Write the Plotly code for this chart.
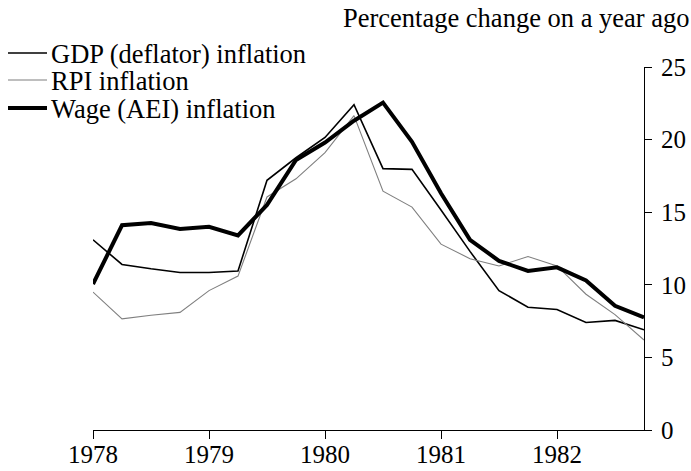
import plotly.graph_objects as go

quarters = [1978.0 + 0.25 * i for i in range(20)]
gdp_deflator = [13.1, 11.4, 11.1, 10.85, 10.85, 10.95, 17.2, 18.75, 20.15, 22.4,
                18.0, 17.95, 15.15, 12.3, 9.6, 8.45, 8.3, 7.4, 7.55, 6.9]
rpi = [9.5, 7.65, 7.9, 8.1, 9.6, 10.6, 16.05, 17.3, 19.1, 21.65,
       16.45, 15.35, 12.8, 11.8, 11.3, 11.95, 11.3, 9.35, 7.95, 6.2]
wage_aei = [10.05, 14.1, 14.25, 13.85, 14.0, 13.4, 15.5, 18.6, 19.8, 21.3,
            22.55, 19.85, 16.3, 13.1, 11.65, 10.95, 11.2, 10.3, 8.55, 7.75]
x_ticks = [1978, 1979, 1980, 1981, 1982]
y_ticks = [0, 5, 10, 15, 20, 25]

FONT = "Liberation Serif, Times New Roman, Times, serif"
FS = 25
FS_TEXT = 26.5

W, H = 691, 471
ML, MR, MT, MB = 93, 47, 67, 41
PW, PH = W - ML - MR, H - MT - MB


def px_to_paper(px, py):
    return (px - ML) / PW, (H - MB - py) / PH


series = [
    ("GDP (deflator) inflation", gdp_deflator, "black", 1.6),
    ("RPI inflation", rpi, "#7f7f7f", 1.1),
    ("Wage (AEI) inflation", wage_aei, "black", 4),
]

fig = go.Figure()
shapes, annotations = [], []
legend_rows = [53, 80, 108]
for (name, vals, col, wid), ry in zip(series, legend_rows):
    fig.add_trace(go.Scatter(x=quarters, y=vals, mode="lines", name=name,
                             line=dict(color=col, width=wid)))
    x0, y0 = px_to_paper(8, ry)
    x1, _ = px_to_paper(47, ry)
    shapes.append(dict(type="line", xref="paper", yref="paper",
                       x0=x0, x1=x1, y0=y0, y1=y0,
                       line=dict(color=col, width=wid)))
    tx, ty = px_to_paper(50, ry + 1)
    annotations.append(dict(text=name, xref="paper", yref="paper",
                            x=tx, y=ty, xanchor="left", yanchor="middle",
                            showarrow=False, borderpad=0,
                            font=dict(family=FONT, size=FS_TEXT, color="black")))

tx, ty = px_to_paper(692, 18)
annotations.append(dict(text="Percentage change on a year ago",
                        xref="paper", yref="paper", x=tx, y=ty,
                        xanchor="right", yanchor="middle", showarrow=False,
                        font=dict(family=FONT, size=FS_TEXT, color="black")))

fig.update_layout(
    width=W, height=H,
    margin=dict(l=ML, r=MR, t=MT, b=MB),
    paper_bgcolor="white", plot_bgcolor="white",
    font=dict(family=FONT, size=FS, color="black"),
    showlegend=False,
    shapes=shapes,
    annotations=annotations,
)
fig.update_xaxes(range=[1978, 1982.75], tickvals=x_ticks,
                 ticktext=[str(v) for v in x_ticks],
                 showgrid=False, zeroline=False, showline=True,
                 linecolor="black", linewidth=1.2, automargin=False,
                 ticks="outside", ticklen=8, tickcolor="black", tickwidth=1.2,
                 ticklabelstandoff=-6)
fig.update_yaxes(range=[0, 25], tickvals=y_ticks, side="right",
                 showgrid=False, zeroline=False, showline=True,
                 linecolor="black", linewidth=1.2, automargin=False,
                 ticks="outside", ticklen=7, tickcolor="black", tickwidth=1.2,
                 ticklabelstandoff=4)

fig.write_html("out.html", config={"displayModeBar": False},
               post_script="document.body.style.margin='0';")
